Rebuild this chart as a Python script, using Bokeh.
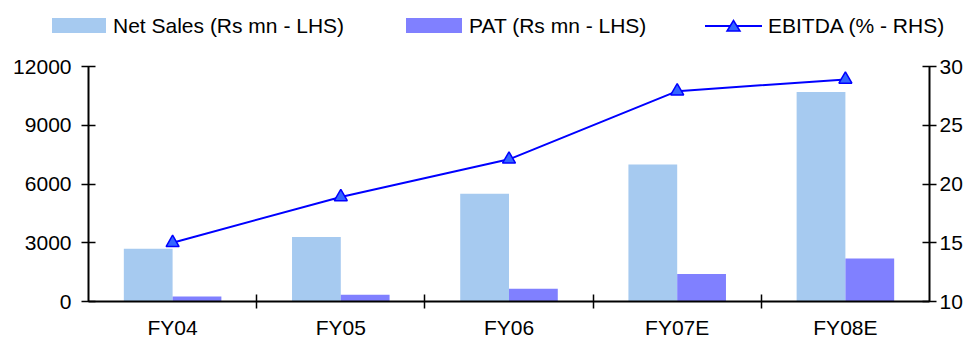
from bokeh.plotting import figure
from bokeh.layouts import column
from bokeh.models import (Range1d, LinearAxis, FixedTicker, ColumnDataSource,
                          CustomJSTickFormatter, Div)
from bokeh.transform import dodge
from bokeh.embed import file_html
from bokeh.resources import INLINE

categories = ["FY04", "FY05", "FY06", "FY07E", "FY08E"]
net_sales = [2700, 3300, 5500, 7000, 10700]
pat = [250, 350, 650, 1400, 2200]
ebitda = [15.0, 18.9, 22.1, 27.9, 28.9]
left_ticks = [0, 3000, 6000, 9000, 12000]
right_ticks = [10, 15, 20, 25, 30]
series_names = ["Net Sales (Rs mn - LHS)", "PAT (Rs mn - LHS)", "EBITDA (% - RHS)"]

FONT = "Liberation Sans"
FS = "21px"
C_SALES = "#A6CAF0"
C_PAT = "#8080FF"
C_LINE = "#0000FF"
C_MARK = "#3366FF"

W = 969
LEG_H = 48
MAIN_H = 341 - LEG_H

n = len(categories)
centers = [i + 0.5 for i in range(n)]
src = ColumnDataSource(dict(x=centers, cat=categories, sales=net_sales,
                            pat=pat, ebitda=ebitda))

# ---------------- main chart ----------------
p = figure(width=W, height=MAIN_H, output_backend="svg", toolbar_location=None,
           x_range=Range1d(0, n), y_range=Range1d(0, 12000),
           min_border_left=88, min_border_right=40, min_border_top=18,
           min_border_bottom=40)
p.outline_line_color = None
p.xgrid.visible = False
p.ygrid.visible = False
p.extra_y_ranges = {"right": Range1d(10, 30)}

bw = 0.29
p.vbar(x=dodge("x", -bw / 2), top="sales", width=bw,
       source=src, fill_color=C_SALES, line_color=None)
p.vbar(x=dodge("x", bw / 2), top="pat", width=bw,
       source=src, fill_color=C_PAT, line_color=None)
p.line("x", "ebitda", source=src, y_range_name="right",
       line_color=C_LINE, line_width=2)
p.scatter("x", "ebitda", source=src, y_range_name="right",
          marker="triangle", size=13, fill_color=C_MARK,
          line_color=C_LINE, line_width=1.5)

# x axis: labels at centers, ticks at category boundaries
xa = p.xaxis[0]
xa.ticker = FixedTicker(ticks=centers, minor_ticks=list(range(1, n)))
xa.formatter = CustomJSTickFormatter(
    args=dict(labels=categories),
    code="const i = Math.floor(tick); return (i >= 0 && i < labels.length) ? labels[i] : '';")
xa.major_tick_in = 0
xa.major_tick_out = 0
xa.minor_tick_in = 7
xa.minor_tick_out = 7
xa.minor_tick_line_color = "black"
xa.minor_tick_line_width = 1.5
xa.axis_line_color = "black"
xa.axis_line_width = 2
xa.major_label_text_font = FONT
xa.major_label_text_font_size = FS
xa.major_label_text_color = "black"
xa.major_label_standoff = 7

ya = p.yaxis[0]
ya.ticker = FixedTicker(ticks=left_ticks)
ya.minor_tick_line_color = None
ya.major_tick_in = 7
ya.major_tick_out = 7
ya.major_tick_line_color = "black"
ya.major_tick_line_width = 1.5
ya.axis_line_color = "black"
ya.axis_line_width = 2
ya.major_label_text_font = FONT
ya.major_label_text_font_size = FS
ya.major_label_text_color = "black"
ya.major_label_standoff = 10

ra = LinearAxis(y_range_name="right", ticker=FixedTicker(ticks=right_ticks))
ra.minor_tick_line_color = None
ra.major_tick_in = 7
ra.major_tick_out = 7
ra.major_tick_line_color = "black"
ra.major_tick_line_width = 1.5
ra.axis_line_color = "black"
ra.axis_line_width = 2
ra.major_label_text_font = FONT
ra.major_label_text_font_size = FS
ra.major_label_text_color = "black"
ra.major_label_standoff = 3
p.add_layout(ra, "right")

# ---------------- legend strip (HTML) ----------------
def item(left, glyph_html, label, gap):
    return (f'<div style="position:absolute;left:{left}px;top:13px;height:25px;'
            f'display:flex;align-items:center;white-space:nowrap;">'
            f'{glyph_html}<span style="margin-left:{gap}px;">{label}</span></div>')

sw1 = f'<span style="display:inline-block;width:54px;height:15px;background:{C_SALES};"></span>'
sw2 = f'<span style="display:inline-block;width:56px;height:15px;background:{C_PAT};"></span>'
sw3 = (f'<svg width="57" height="16" style="display:block">'
       f'<line x1="0" y1="8" x2="57" y2="8" stroke="{C_LINE}" stroke-width="2"/>'
       f'<polygon points="22,13 35,13 28.5,2.5" fill="{C_MARK}" stroke="{C_LINE}" '
       f'stroke-width="1.5"/></svg>')

html = (f'<div style="position:relative;width:{W}px;height:{LEG_H}px;'
        f'font-family:\'{FONT}\';font-size:{FS};color:black;">'
        + item(52, sw1, series_names[0], 7)
        + item(406, sw2, series_names[1], 7)
        + item(705, sw3, series_names[2], 6)
        + '</div>')
leg = Div(text=html, width=W, height=LEG_H, margin=0)

open("out.html", "w").write(file_html(column(leg, p, spacing=0), INLINE))
